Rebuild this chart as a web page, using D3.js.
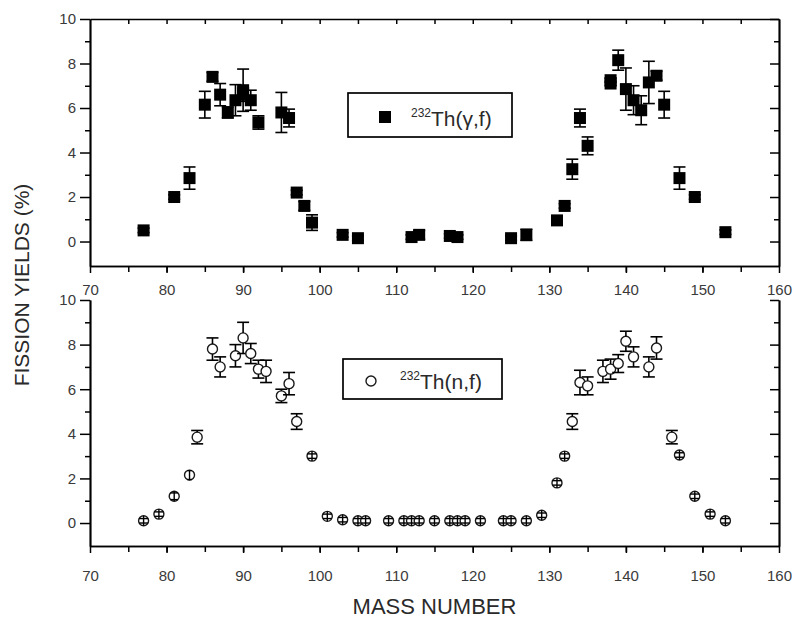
<!DOCTYPE html>
<html><head><meta charset="utf-8">
<script src="https://cdn.jsdelivr.net/npm/d3@7"></script>
<style>body{margin:0;background:#fff}svg{display:block}</style>
</head><body>
<svg id="c" width="794" height="620"></svg>
<script>
// 232Th(gamma,f)
const massGF  = [77,81,83,85,86,87,88,89,90,90,91,92,95,96,97,98,99,103,105,112,113,117,118,125,127,131,132,133,134,135,138,138,139,140,141,142,143,144,145,147,149,153];
const yieldGF = [0.5,2.0,2.85,6.15,7.4,6.6,5.8,6.35,6.8,6.6,6.35,5.35,5.8,5.55,2.2,1.6,0.85,0.3,0.15,0.2,0.3,0.25,0.2,0.15,0.3,0.95,1.6,3.25,5.55,4.3,7.1,7.25,8.15,6.85,6.35,5.9,7.15,7.45,6.15,2.85,2.0,0.42];
const errGF   = [0.1,0.1,0.5,0.6,0.2,0.5,0.25,0.7,0.95,0.3,0.45,0.3,0.9,0.4,0.1,0.2,0.35,0.1,0.1,0.1,0.2,0.1,0.1,0.1,0.25,0.2,0.1,0.45,0.4,0.4,0.1,0.1,0.45,0.95,0.65,0.65,0.95,0.2,0.6,0.5,0.1,0.1];
// 232Th(n,f)
const massNF  = [77,79,81,83,84,86,87,89,90,91,92,93,95,96,97,99,101,103,105,106,109,111,112,113,115,117,118,119,121,124,125,127,129,131,132,133,134,135,137,138,139,140,141,143,144,146,147,149,151,153];
const yieldNF = [0.1,0.4,1.2,2.15,3.85,7.8,7.0,7.5,8.3,7.6,6.9,6.8,5.7,6.25,4.55,3.0,0.3,0.15,0.1,0.1,0.1,0.1,0.1,0.1,0.1,0.1,0.1,0.1,0.1,0.1,0.1,0.1,0.35,1.8,3.0,4.55,6.3,6.15,6.8,6.9,7.15,8.15,7.45,7.0,7.85,3.85,3.05,1.2,0.4,0.1];
const errNF   = [0.1,0.1,0.15,0.2,0.3,0.5,0.45,0.5,0.7,0.45,0.4,0.5,0.3,0.5,0.35,0.1,0.1,0.1,0.1,0.1,0.1,0.1,0.1,0.1,0.1,0.1,0.1,0.1,0.1,0.1,0.1,0.1,0.1,0.1,0.1,0.35,0.55,0.4,0.5,0.45,0.4,0.45,0.45,0.45,0.5,0.3,0.1,0.1,0.1,0.1];
const xTicks = [70,80,90,100,110,120,130,140,150,160];
const yTicks = [0,2,4,6,8,10];
const legendGF = ["232","Th(\u03b3,f)"];
const legendNF = ["232","Th(n,f)"];
const xTitle = "MASS NUMBER";
const yTitle = "FISSION YIELDS (%)";

const svg = d3.select("#c");
const FONT = "'Liberation Sans', Arial, sans-serif";
const x = d3.scaleLinear().domain([70,160]).range([90,779]);
const yTop = d3.scaleLinear().domain([-1.1,10]).range([266,19]);
const yBot = d3.scaleLinear().domain([-1.03,10]).range([546,300]);
const minorX = d3.range(75,160,5);
const oddY = [1,3,5,7,9];

function styleAxis(g){
  g.selectAll("path.domain").attr("stroke","#000").attr("stroke-width",1.7);
  g.selectAll(".tick line").attr("stroke","#000").attr("stroke-width",1.5);
  g.selectAll("text").attr("fill","#3a3a3a").style("font-family",FONT).style("font-size","15px");
}

function panel(y, hasTopBorder, pad){
  const y0 = y.range()[0], y1 = y.range()[1];
  svg.append("g").attr("transform",`translate(${x(70)},0)`)
    .call(d3.axisLeft(y).tickValues(yTicks).tickSize(10).tickSizeOuter(0).tickPadding(4).tickFormat(d3.format("d")))
    .call(styleAxis);
  svg.append("g").attr("transform",`translate(${x(70)},0)`)
    .call(d3.axisLeft(y).tickValues(oddY).tickSize(5).tickSizeOuter(0).tickFormat(""))
    .call(styleAxis);
  svg.append("g").attr("transform",`translate(${x(160)},0)`)
    .call(d3.axisRight(y).tickValues(yTicks).tickSize(-9).tickSizeOuter(0).tickFormat(""))
    .call(styleAxis);
  svg.append("g").attr("transform",`translate(${x(160)},0)`)
    .call(d3.axisRight(y).tickValues(oddY).tickSize(-5).tickSizeOuter(0).tickFormat(""))
    .call(styleAxis);
  svg.append("g").attr("transform",`translate(0,${y0})`)
    .call(d3.axisBottom(x).tickValues(xTicks).tickSize(7).tickSizeOuter(0).tickPadding(pad).tickFormat(d3.format("d")))
    .call(styleAxis);
  svg.append("g").attr("transform",`translate(0,${y0})`)
    .call(d3.axisBottom(x).tickValues(minorX).tickSize(6).tickSizeOuter(0).tickFormat(""))
    .call(styleAxis);
  if(hasTopBorder){
    svg.append("g").attr("transform",`translate(0,${y1})`)
      .call(d3.axisTop(x).tickValues(d3.range(75,160,5)).tickSize(-5).tickSizeOuter(0).tickFormat(""))
      .call(styleAxis);
  }
}
panel(yTop, true, 11);
panel(yBot, false, 17);

const gT = svg.append("g");
const S = 12, CAP = 6;
massGF.forEach((m,i)=>{
  const cx = x(m), hi = yTop(yieldGF[i]+errGF[i]), lo = yTop(yieldGF[i]-errGF[i]);
  gT.append("line").attr("x1",cx).attr("x2",cx).attr("y1",hi).attr("y2",lo).attr("stroke","#000").attr("stroke-width",1.6);
  [hi,lo].forEach(v=>gT.append("line").attr("x1",cx-CAP).attr("x2",cx+CAP).attr("y1",v).attr("y2",v).attr("stroke","#000").attr("stroke-width",1.6));
});
massGF.forEach((m,i)=>{
  gT.append("rect").attr("x",x(m)-S/2).attr("y",yTop(yieldGF[i])-S/2).attr("width",S).attr("height",S).attr("fill","#000");
});

const gB = svg.append("g");
const R = 5;
massNF.forEach((m,i)=>{
  const cx = x(m), cy = yBot(yieldNF[i]);
  const e = Math.abs(yBot(yieldNF[i]+errNF[i]) - cy);
  gB.append("circle").attr("cx",cx).attr("cy",cy).attr("r",R).attr("fill","#fff").attr("stroke","#1a1a1a").attr("stroke-width",1.4);
  if(e > R){
    [[cy-e,cy-R],[cy+R,cy+e]].forEach(s=>gB.append("line").attr("x1",cx).attr("x2",cx).attr("y1",s[0]).attr("y2",s[1]).attr("stroke","#000").attr("stroke-width",1.6));
    [cy-e,cy+e].forEach(v=>gB.append("line").attr("x1",cx-CAP).attr("x2",cx+CAP).attr("y1",v).attr("y2",v).attr("stroke","#000").attr("stroke-width",1.6));
  } else {
    gB.append("line").attr("x1",cx).attr("x2",cx).attr("y1",cy-R).attr("y2",cy+R).attr("stroke","#000").attr("stroke-width",1.4);
    const hw = Math.sqrt(R*R - e*e);
    [cy-e,cy+e].forEach(v=>gB.append("line").attr("x1",cx-hw).attr("x2",cx+hw).attr("y1",v).attr("y2",v).attr("stroke","#000").attr("stroke-width",1.4));
  }
});

function legend(bx,by,bw,bh,mx,my,tx,ty,labels,marker){
  const g = svg.append("g");
  g.append("rect").attr("x",bx).attr("y",by).attr("width",bw).attr("height",bh).attr("fill","#fff").attr("stroke","#000").attr("stroke-width",1.7);
  if(marker==="square") g.append("rect").attr("x",mx-S/2).attr("y",my-S/2).attr("width",S).attr("height",S).attr("fill","#000");
  else g.append("circle").attr("cx",mx).attr("cy",my).attr("r",R).attr("fill","#fff").attr("stroke","#1a1a1a").attr("stroke-width",1.4);
  const t = g.append("text").attr("x",tx).attr("y",ty).style("font-family",FONT).attr("fill","#2a2a2a");
  t.append("tspan").text(labels[0]).style("font-size","12px").attr("dy",-9);
  t.append("tspan").text(labels[1]).style("font-size","21px").attr("dy",9);
}
legend(348,93,164,44,385,117,411,126,legendGF,"square");
legend(343,359,159,40,371,381,400,389,legendNF,"circle");

svg.append("text").attr("x",(x(70)+x(160))/2).attr("y",614).attr("text-anchor","middle")
  .style("font-family",FONT).style("font-size","22px").attr("fill","#2a2a2a").text(xTitle);
svg.append("text").attr("transform","translate(29,285) rotate(-90)").attr("text-anchor","middle")
  .style("font-family",FONT).style("font-size","21px").attr("fill","#2a2a2a").text(yTitle);
</script>
</body></html>
